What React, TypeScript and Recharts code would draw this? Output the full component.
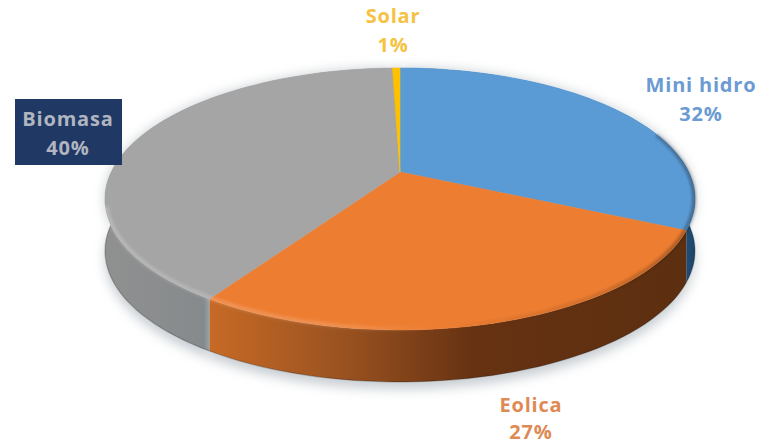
import React from "react";
import { Pie, PieChart } from "recharts";

const names = ["Mini hidro", "Eolica", "Biomasa", "Solar"];
const shares = [32, 27.2, 40.3, 0.5];
const shareLabels = ["32%", "27%", "40%", "1%"];
const topColors = ["#5b9bd5", "#ed7d31", "#a5a5a5", "#ffc000"];
const textColors = ["#6b9bd2", "#df8a55", "#b0b5c0", "#f5c242"];

const rows = names.map((name, i) => ({ name, value: shares[i], index: i }));

// the picture is a tilted disc, so angles go through a small perspective map
const APEX_X = 400;
const APEX_Y = 172;
const SPAN_X = 288.7;
const SPAN_Y = 125.4;
const TILT = 0.206;
const DEPTH = 52;

function project(deg: number) {
  // recharts angle: 90 is the top, going clockwise as it falls
  const a = (deg * Math.PI) / 180;
  const u = Math.cos(a);
  const v = -Math.sin(a);
  const w = 1 - TILT * v;
  return [APEX_X + (SPAN_X * u) / w, APEX_Y + (SPAN_Y * v) / w];
}

function arcPoints(from: number, to: number) {
  const steps = Math.max(2, Math.ceil(Math.abs(to - from) / 2));
  const pts = [];
  for (let i = 0; i <= steps; i++) pts.push(project(from + ((to - from) * i) / steps));
  return pts;
}

const toLine = (pts: number[][]) => "M" + pts.map((p) => p[0].toFixed(1) + "," + p[1].toFixed(1)).join("L");

function ShadowSector(props: any) {
  const pts = arcPoints(props.startAngle, props.endAngle);
  const low = pts.map((p) => [p[0], p[1] + DEPTH + 7]).reverse();
  return <path d={toLine([...pts, ...low]) + "Z"} fill="#b4bcc2" opacity={0.75} filter="url(#soft)" />;
}

function WallSector(props: any) {
  const pts = arcPoints(props.startAngle, props.endAngle);
  const low = pts.map((p) => [p[0], p[1] + DEPTH]).reverse();
  return (
    <g>
      <path d={toLine([...pts, ...low]) + "Z"} fill={`url(#wall${props.index})`} stroke="none" />
      <path d={toLine(low)} fill="none" stroke="#000" strokeOpacity={0.22} strokeWidth={1.2} />
    </g>
  );
}

function TopSector(props: any) {
  const pts = arcPoints(props.startAngle, props.endAngle);
  const i = props.index;
  return <path d={toLine([[APEX_X, APEX_Y], ...pts]) + "Z"} fill={topColors[i]} stroke={topColors[i]} strokeWidth={0.6} />;
}

// soft rim where the top face bends into the wall
function RimSector(props: any) {
  const pts = arcPoints(props.startAngle, props.endAngle)
    .filter((p) => p[0] > 655 || p[1] > 205)
    .map((p) => [APEX_X + (p[0] - APEX_X) * 0.997, APEX_Y + (p[1] - APEX_Y) * 0.992]);
  if (pts.length < 2) return <g />;
  return <path d={toLine(pts)} fill="none" stroke="url(#rim)" strokeWidth={4} filter="url(#edge)" />;
}

const labelBoxes: Record<string, { x: number; y: number; y2: number }> = {
  "Mini hidro": { x: 701, y: 92, y2: 121 },
  Eolica: { x: 531, y: 412, y2: 439 },
  Biomasa: { x: 68, y: 126, y2: 155 },
  Solar: { x: 393, y: 23, y2: 52 },
};

function SliceLabel(props: any) {
  const name = props.name;
  const box = labelBoxes[name];
  const color = textColors[props.index];
  const font = { fontFamily: "'Open Sans', sans-serif", fontWeight: 700, fontSize: 20, letterSpacing: 0.8 };
  return (
    <g>
      {name === "Biomasa" && <rect x={15} y={99} width={107} height={66} fill="#1f3864" />}
      <text x={box.x} y={box.y} textAnchor="middle" fill={color} {...font}>
        {name}
      </text>
      <text x={box.x} y={box.y2} textAnchor="middle" fill={color} {...font}>
        {shareLabels[props.index]}
      </text>
    </g>
  );
}

const pieProps = {
  data: rows,
  dataKey: "value",
  nameKey: "name",
  cx: 400,
  cy: 172,
  outerRadius: 200,
  startAngle: 90,
  endAngle: -270,
  stroke: "none",
  isAnimationActive: false,
  labelLine: false,
};

export default function App() {
  return (
    <div style={{ position: "absolute", left: 0, top: 0, width: 768, height: 445, background: "#fff", overflow: "hidden" }}>
      <PieChart width={768} height={445} margin={{ top: 0, right: 0, bottom: 0, left: 0 }}>
        <defs>
          <filter id="soft" x="-20%" y="-20%" width="140%" height="140%">
            <feGaussianBlur stdDeviation="6" />
          </filter>
          <filter id="edge" x="-10%" y="-20%" width="120%" height="140%">
            <feGaussianBlur stdDeviation="1.8" />
          </filter>
          <linearGradient id="rim" gradientUnits="userSpaceOnUse" x1="105" y1="0" x2="695" y2="0">
            <stop offset="0" stopColor="#fff" stopOpacity={0.22} />
            <stop offset="0.4" stopColor="#fff" stopOpacity={0.16} />
            <stop offset="0.56" stopColor="#fff" stopOpacity={0} />
            <stop offset="0.62" stopColor="#000" stopOpacity={0.03} />
            <stop offset="0.85" stopColor="#000" stopOpacity={0.14} />
            <stop offset="1" stopColor="#000" stopOpacity={0.32} />
          </linearGradient>
          <linearGradient id="wall0" gradientUnits="userSpaceOnUse" x1="660" y1="0" x2="695" y2="0">
            <stop offset="0" stopColor="#2f6a9e" />
            <stop offset="1" stopColor="#1d4468" />
          </linearGradient>
          <linearGradient id="wall1" gradientUnits="userSpaceOnUse" x1="208" y1="0" x2="690" y2="0">
            <stop offset="0" stopColor="#c76a26" />
            <stop offset="0.28" stopColor="#9a5220" />
            <stop offset="0.55" stopColor="#663212" />
            <stop offset="1" stopColor="#5c2f10" />
          </linearGradient>
          <linearGradient id="wall2" gradientUnits="userSpaceOnUse" x1="105" y1="0" x2="209" y2="0">
            <stop offset="0" stopColor="#909090" />
            <stop offset="0.95" stopColor="#868a8c" />
            <stop offset="1" stopColor="#94a0a8" />
          </linearGradient>
          <linearGradient id="wall3" gradientUnits="userSpaceOnUse" x1="390" y1="0" x2="400" y2="0">
            <stop offset="0" stopColor="#bf9000" />
            <stop offset="1" stopColor="#bf9000" />
          </linearGradient>
        </defs>
        <Pie {...pieProps} shape={ShadowSector} label={false} />
        <Pie {...pieProps} shape={WallSector} label={false} />
        <Pie {...pieProps} shape={TopSector} label={false} />
        <Pie {...pieProps} shape={RimSector} label={SliceLabel} />
      </PieChart>
    </div>
  );
}
